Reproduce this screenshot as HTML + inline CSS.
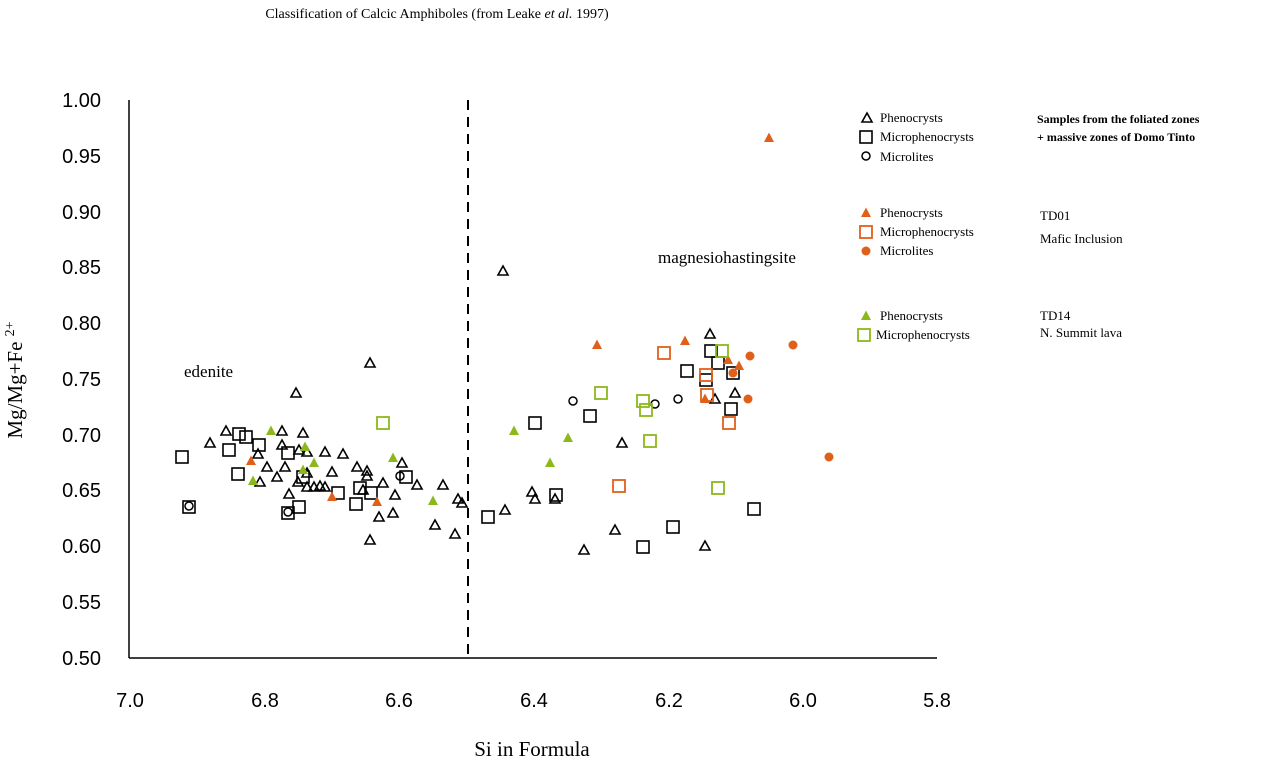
<!DOCTYPE html>
<html><head><meta charset="utf-8"><style>body{margin:0;background:#fff}svg{display:block}</style></head>
<body>
<svg width="1279" height="760" viewBox="0 0 1279 760" xmlns="http://www.w3.org/2000/svg">
<defs>
<path id="tb" d="M0,-5 L5,4 L-5,4 Z" fill="none" stroke="#000" stroke-width="1.6"/>
<path id="to" d="M0,-5.5 L5,4 L-5,4 Z" fill="#e0601a"/>
<path id="tg" d="M0,-5.5 L5,4 L-5,4 Z" fill="#8db81c"/>
<rect id="sb" x="-6" y="-6" width="12" height="12" fill="none" stroke="#000" stroke-width="1.6"/>
<rect id="so" x="-6" y="-6" width="12" height="12" fill="none" stroke="#e0601a" stroke-width="1.8"/>
<rect id="sg" x="-6" y="-6" width="12" height="12" fill="none" stroke="#8db81c" stroke-width="1.8"/>
<circle id="cb" r="4" fill="none" stroke="#000" stroke-width="1.5"/>
<circle id="co" r="4.5" fill="#e0601a"/>
</defs>
<g font-family="Liberation Serif, serif">
<text x="437" y="18" font-size="14" text-anchor="middle">Classification of Calcic Amphiboles (from Leake <tspan font-style="italic">et al.</tspan> 1997)</text>
</g>
<!-- axes -->
<line x1="129" y1="100" x2="129" y2="658" stroke="#000" stroke-width="1.5"/>
<line x1="129" y1="658" x2="937" y2="658" stroke="#000" stroke-width="1.5"/>
<line x1="468" y1="100" x2="468" y2="658" stroke="#000" stroke-width="2" stroke-dasharray="10,7"/>
<g font-family="Liberation Sans, sans-serif" font-size="20" text-anchor="end">
<text x="101" y="107">1.00</text><text x="101" y="163">0.95</text><text x="101" y="219">0.90</text>
<text x="101" y="274">0.85</text><text x="101" y="330">0.80</text><text x="101" y="386">0.75</text>
<text x="101" y="442">0.70</text><text x="101" y="497">0.65</text><text x="101" y="553">0.60</text>
<text x="101" y="609">0.55</text><text x="101" y="665">0.50</text>
</g>
<g font-family="Liberation Sans, sans-serif" font-size="20" text-anchor="middle">
<text x="130" y="707">7.0</text><text x="265" y="707">6.8</text><text x="399" y="707">6.6</text>
<text x="534" y="707">6.4</text><text x="669" y="707">6.2</text><text x="803" y="707">6.0</text><text x="937" y="707">5.8</text>
</g>
<g font-family="Liberation Serif, serif">
<text x="532" y="756" font-size="21" text-anchor="middle">Si in Formula</text>
<text transform="translate(22,380) rotate(-90)" font-size="21" text-anchor="middle">Mg/Mg+Fe <tspan font-size="14" dy="-8">2+</tspan></text>
<text x="184" y="377" font-size="17">edenite</text>
<text x="658" y="263" font-size="17">magnesiohastingsite</text>
<g font-size="13">
<text x="880" y="122">Phenocrysts</text><text x="880" y="141">Microphenocrysts</text><text x="880" y="161">Microlites</text>
<text x="880" y="217">Phenocrysts</text><text x="880" y="236">Microphenocrysts</text><text x="880" y="255">Microlites</text>
<text x="880" y="320">Phenocrysts</text><text x="876" y="339">Microphenocrysts</text>
<text x="1037" y="123" font-weight="bold" font-size="12">Samples from the foliated zones</text>
<text x="1037" y="141" font-weight="bold" font-size="12">+ massive zones of  Domo Tinto</text>
<text x="1040" y="220">TD01</text><text x="1040" y="243">Mafic Inclusion</text>
<text x="1040" y="320">TD14</text><text x="1040" y="337">N. Summit lava</text>
</g>
</g>
<!-- legend markers -->
<use href="#tb" x="867" y="118"/><use href="#sb" x="866" y="137"/><use href="#cb" x="866" y="156"/>
<use href="#to" x="866" y="213"/><use href="#so" x="866" y="232"/><use href="#co" x="866" y="251"/>
<use href="#tg" x="866" y="316"/><use href="#sg" x="864" y="335"/>
<!-- black triangles -->
<g>
<use href="#tb" x="370" y="363"/><use href="#tb" x="296" y="393"/><use href="#tb" x="210" y="443"/><use href="#tb" x="226" y="431"/>
<use href="#tb" x="282" y="431"/><use href="#tb" x="303" y="433"/><use href="#tb" x="282" y="445"/><use href="#tb" x="258" y="454"/>
<use href="#tb" x="299" y="450"/><use href="#tb" x="307" y="452"/><use href="#tb" x="325" y="452"/><use href="#tb" x="343" y="454"/>
<use href="#tb" x="267" y="467"/><use href="#tb" x="285" y="467"/><use href="#tb" x="277" y="477"/><use href="#tb" x="298" y="482"/>
<use href="#tb" x="307" y="473"/><use href="#tb" x="332" y="472"/><use href="#tb" x="357" y="467"/><use href="#tb" x="367" y="471"/>
<use href="#tb" x="367" y="476"/><use href="#tb" x="402" y="463"/><use href="#tb" x="383" y="483"/><use href="#tb" x="260" y="482"/>
<use href="#tb" x="307" y="487"/><use href="#tb" x="314" y="487"/><use href="#tb" x="320" y="486"/><use href="#tb" x="325" y="487"/>
<use href="#tb" x="289" y="494"/><use href="#tb" x="363" y="490"/><use href="#tb" x="395" y="495"/><use href="#tb" x="417" y="485"/>
<use href="#tb" x="443" y="485"/><use href="#tb" x="458" y="499"/><use href="#tb" x="462" y="503"/><use href="#tb" x="379" y="517"/>
<use href="#tb" x="393" y="513"/><use href="#tb" x="435" y="525"/><use href="#tb" x="455" y="534"/><use href="#tb" x="370" y="540"/>
<use href="#tb" x="503" y="271"/><use href="#tb" x="710" y="334"/><use href="#tb" x="622" y="443"/><use href="#tb" x="532" y="492"/>
<use href="#tb" x="535" y="499"/><use href="#tb" x="555" y="499"/><use href="#tb" x="505" y="510"/><use href="#tb" x="615" y="530"/>
<use href="#tb" x="584" y="550"/><use href="#tb" x="705" y="546"/><use href="#tb" x="715" y="399"/><use href="#tb" x="735" y="393"/>
</g>
<!-- black squares -->
<g>
<use href="#sb" x="182" y="457"/><use href="#sb" x="239" y="434"/><use href="#sb" x="246" y="437"/><use href="#sb" x="229" y="450"/>
<use href="#sb" x="259" y="445"/><use href="#sb" x="288" y="453"/><use href="#sb" x="238" y="474"/><use href="#sb" x="303" y="477"/>
<use href="#sb" x="338" y="493"/><use href="#sb" x="360" y="488"/><use href="#sb" x="371" y="493"/><use href="#sb" x="356" y="504"/>
<use href="#sb" x="299" y="507"/><use href="#sb" x="288" y="513"/><use href="#sb" x="189" y="507"/><use href="#sb" x="406" y="477"/>
<use href="#sb" x="711" y="351"/><use href="#sb" x="718" y="363"/><use href="#sb" x="733" y="373"/><use href="#sb" x="687" y="371"/>
<use href="#sb" x="706" y="380"/><use href="#sb" x="731" y="409"/><use href="#sb" x="590" y="416"/><use href="#sb" x="535" y="423"/>
<use href="#sb" x="488" y="517"/><use href="#sb" x="556" y="495"/><use href="#sb" x="673" y="527"/><use href="#sb" x="643" y="547"/>
<use href="#sb" x="754" y="509"/>
</g>
<!-- black circles -->
<use href="#cb" x="189" y="506"/><use href="#cb" x="288" y="512"/><use href="#cb" x="400" y="476"/><use href="#cb" x="573" y="401"/><use href="#cb" x="655" y="404"/><use href="#cb" x="678" y="399"/>
<!-- orange -->
<use href="#to" x="251" y="461"/><use href="#to" x="332" y="497"/><use href="#to" x="377" y="502"/><use href="#to" x="597" y="345"/>
<use href="#to" x="685" y="341"/><use href="#to" x="728" y="360"/><use href="#to" x="739" y="366"/><use href="#to" x="705" y="399"/><use href="#to" x="769" y="138"/>
<use href="#so" x="664" y="353"/><use href="#so" x="706" y="375"/><use href="#so" x="707" y="395"/><use href="#so" x="729" y="423"/><use href="#so" x="619" y="486"/>
<use href="#co" x="793" y="345"/><use href="#co" x="750" y="356"/><use href="#co" x="733" y="373"/><use href="#co" x="748" y="399"/><use href="#co" x="829" y="457"/>
<!-- green -->
<use href="#tg" x="271" y="431"/><use href="#tg" x="305" y="447"/><use href="#tg" x="314" y="463"/><use href="#tg" x="303" y="470"/>
<use href="#tg" x="253" y="481"/><use href="#tg" x="393" y="458"/><use href="#tg" x="433" y="501"/><use href="#tg" x="514" y="431"/>
<use href="#tg" x="568" y="438"/><use href="#tg" x="550" y="463"/>
<use href="#sg" x="383" y="423"/><use href="#sg" x="722" y="351"/><use href="#sg" x="601" y="393"/><use href="#sg" x="643" y="401"/>
<use href="#sg" x="646" y="410"/><use href="#sg" x="650" y="441"/><use href="#sg" x="718" y="488"/>
</svg>
</body></html>
